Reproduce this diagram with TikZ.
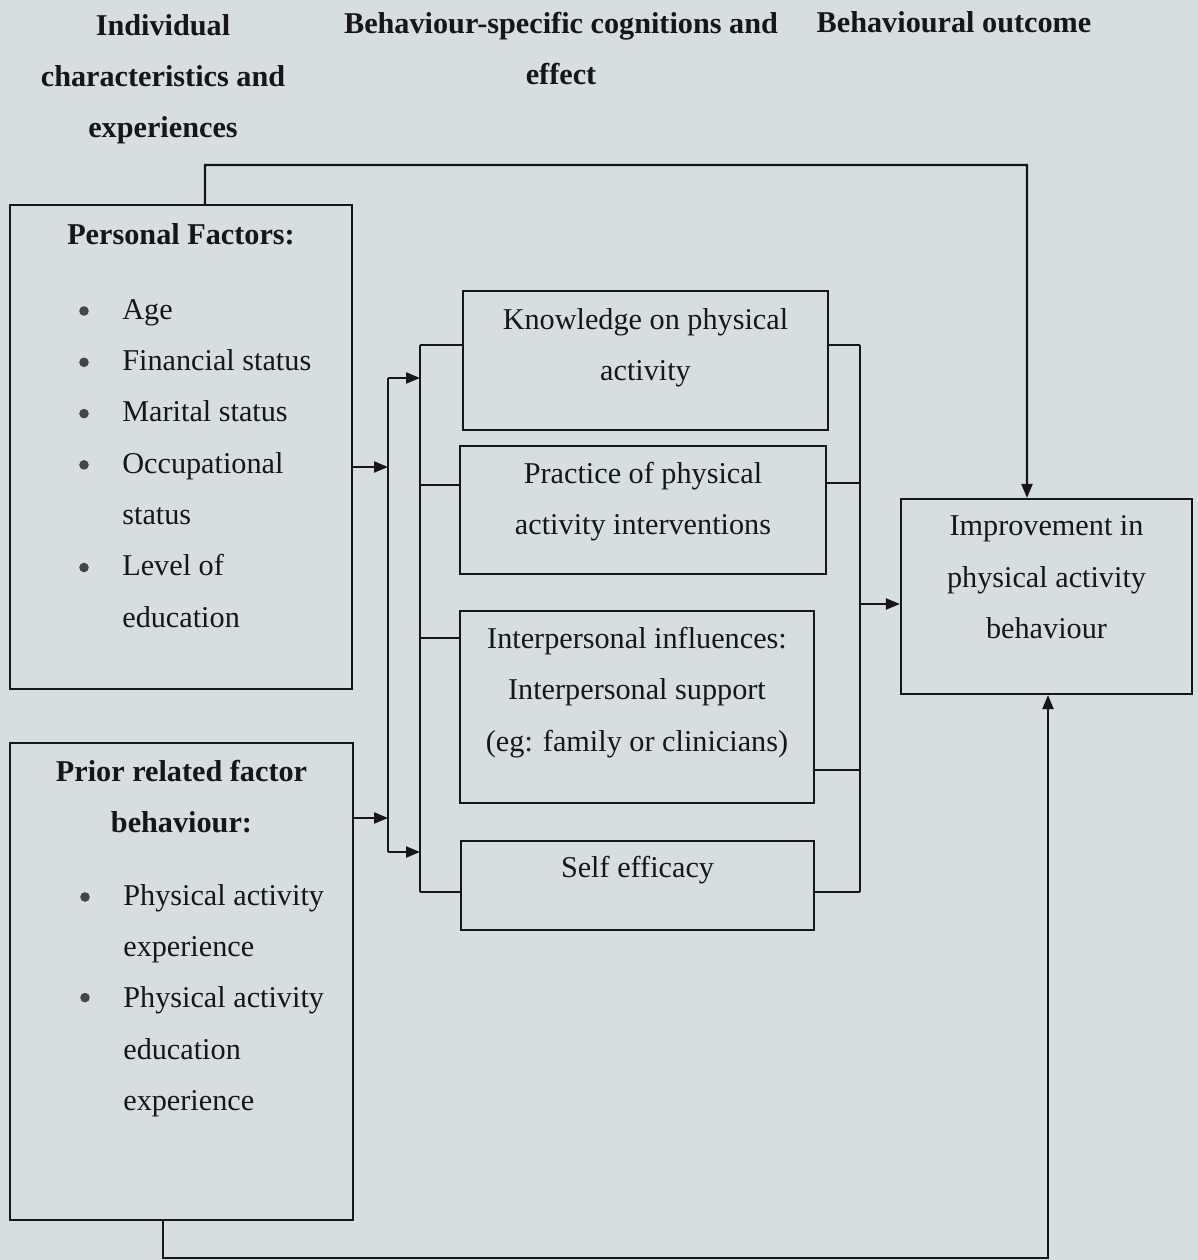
\documentclass[tikz,border=0pt]{standalone}
\usepackage{fontspec}
\setmainfont{Liberation Serif}
\usetikzlibrary{arrows.meta, positioning, calc}
\definecolor{paper}{RGB}{214,222,226}
\definecolor{ink}{RGB}{22,22,22}
\tikzset{
    box/.style={rectangle, draw=ink, line width=1.2pt},
    txt/.style={align=center, inner sep=0pt, text=ink, font=\fontsize{17.2}{29.2}\selectfont},
    head/.style={align=center, inner sep=0pt, text=ink, font=\fontsize{17.2}{29.2}\selectfont\bfseries},
    items/.style={align=left, inner sep=0pt, text=ink, font=\fontsize{17.2}{29.2}\selectfont},
    line/.style={draw=ink, line width=1.2pt},
    arrow/.style={line, -{Triangle[length=2.8mm, width=2.2mm]}}
}

\begin{document}
\begin{tikzpicture}[x=0.2mm, y=-0.2mm]
        \fill[paper] (0,0) rectangle (1198,1260);
        \useasboundingbox (0,0) rectangle (1198,1260);

        % column headings
        \node[head, anchor=north] (hind) at (163,14) {Individual\\characteristics and\\experiences};
        \node[head, anchor=north] (hbeh) at (561,12) {Behaviour-specific cognitions and\\effect};
        \node[head, anchor=north] (hout) at (954,11) {Behavioural outcome};

        % boxes
        \node[box, minimum width=68.4mm, minimum height=96.8mm] (pers) at (181,447) {};
        \node[box, minimum width=68.6mm, minimum height=95.4mm] (prior) at (181.5,981.5) {};
        \node[box, minimum width=73mm, minimum height=27.8mm] (know) at (645.5,360.5) {};
        \node[box, minimum width=73.2mm, minimum height=25.6mm] (prac) at (643,510) {};
        \node[box, minimum width=70.8mm, minimum height=38.4mm] (inter) at (637,707) {};
        \node[box, minimum width=70.6mm, minimum height=17.8mm] (self) at (637.5,885.5) {};
        \node[box, minimum width=58.2mm, minimum height=39mm] (impr) at (1046.5,596.5) {};

        % box texts
        \node[head, below=3.8mm of pers.north] (perst) {Personal Factors:};
        \node[items, anchor=north west] (persl) at (122,299) {Age\\Financial status\\Marital status\\Occupational\\status\\Level of\\education};
        \foreach \i in {0,1,2,3,5}
            \fill[ink!80] (84,{311+51.3*\i}) circle (4.8);
        \node[head, below=3.6mm of prior.north] (priort) {Prior related factor\\behaviour:};
        \node[items, anchor=north west] (priorl) at (123,884) {Physical activity\\experience\\Physical activity\\education\\experience};
        \foreach \i in {0,2}
            \fill[ink!80] (85,{897+50.3*\i}) circle (4.8);
        \node[txt, below=3.6mm of know.north] (knowt) {Knowledge on physical\\activity};
        \node[txt, below=3.4mm of prac.north] (pract) {Practice of physical\\activity interventions};
        \node[txt, below=3.4mm of inter.north] (intert) {Interpersonal influences:\\Interpersonal support\\(eg: family or clinicians)};
        \node[txt, below=3.2mm of self.north] (selft) {Self efficacy};
        \node[txt, below=3.5mm of impr.north] (imprt) {Improvement in\\physical activity\\behaviour};

        % left buses
        \coordinate (lb1) at (388,378);
        \coordinate (lb2) at (388,852);
        \coordinate (m1) at (420,345);
        \coordinate (m2) at (420,892);
        \coordinate (pe) at ([yshift=-4mm]pers.east);
        \coordinate (pre) at ([yshift=32.7mm]prior.east);
        \draw[line] (lb1) -- (lb2);
        \draw[arrow] (pe) -- (pe -| lb1);
        \draw[arrow] (pre) -- (pre -| lb1);
        \draw[arrow] (lb1) -- (lb1 -| m1);
        \draw[arrow] (lb2) -- (lb2 -| m1);
        \draw[line] (m1) -- (m2);
        \coordinate (pw) at ([yshift=5mm]prac.west);
        \coordinate (iw) at ([yshift=13.8mm]inter.west);
        \draw[line] (m1) -- (m1 -| know.west);
        \draw[line] (m1 |- pw) -- (pw);
        \draw[line] (m1 |- iw) -- (iw);
        \draw[line] (m2) -- (m2 -| self.west);

        % right bus
        \coordinate (r1) at (860,345);
        \coordinate (r2) at (860,892);
        \coordinate (pa) at ([yshift=5.4mm]prac.east);
        \coordinate (ie) at ([yshift=-12.6mm]inter.east);
        \coordinate (mw) at ([yshift=-1.5mm]impr.west);
        \draw[line] (r1) -- (r2);
        \draw[line] (know.east |- r1) -- (r1);
        \draw[line] (pa) -- (pa -| r1);
        \draw[line] (ie) -- (ie -| r1);
        \draw[line] (self.east |- r2) -- (r2);
        \draw[arrow] (mw -| r1) -- (mw);

        % loops to outcome
        \coordinate (ttop) at (1027,165);
        \coordinate (tbot) at (1048,1258);
        \draw[arrow] ([xshift=4.8mm]pers.north) |- (ttop) -- ([xshift=-3.9mm]impr.north);
        \draw[arrow] ([xshift=-3.7mm]prior.south) |- (tbot) -- ([xshift=0.3mm]impr.south);
    \end{tikzpicture}
\end{document}
